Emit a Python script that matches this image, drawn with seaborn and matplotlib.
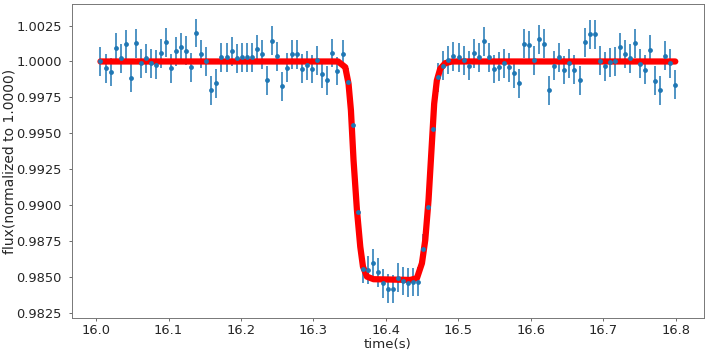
import numpy as np
import pandas as pd
import matplotlib
matplotlib.use("Agg")
import matplotlib.pyplot as plt
from matplotlib.ticker import MultipleLocator, FormatStrFormatter
import seaborn as sns

# observation times (s)
time_s = [
    16.0060, 16.0130, 16.0199, 16.0269, 16.0338, 16.0408, 16.0478, 16.0547, 16.0617, 16.0686,
    16.0756, 16.0826, 16.0895, 16.0965, 16.1034, 16.1104, 16.1174, 16.1243, 16.1313, 16.1382,
    16.1452, 16.1522, 16.1591, 16.1661, 16.1730, 16.1800, 16.1870, 16.1939, 16.2009, 16.2078,
    16.2148, 16.2218, 16.2287, 16.2357, 16.2426, 16.2496, 16.2566, 16.2635, 16.2705, 16.2774,
    16.2844, 16.2914, 16.2983, 16.3053, 16.3122, 16.3192, 16.3262, 16.3331, 16.3401, 16.3470,
    16.3540, 16.3610, 16.3679, 16.3749, 16.3818, 16.3888, 16.3958, 16.4027, 16.4097, 16.4166,
    16.4236, 16.4306, 16.4375, 16.4445, 16.4514, 16.4584, 16.4654, 16.4723, 16.4793, 16.4862,
    16.4932, 16.5002, 16.5071, 16.5141, 16.5210, 16.5280, 16.5350, 16.5419, 16.5489, 16.5558,
    16.5628, 16.5698, 16.5767, 16.5837, 16.5906, 16.5976, 16.6046, 16.6115, 16.6185, 16.6254,
    16.6324, 16.6394, 16.6463, 16.6533, 16.6602, 16.6672, 16.6742, 16.6811, 16.6881, 16.6950,
    16.7020, 16.7090, 16.7159, 16.7229, 16.7298, 16.7368, 16.7438, 16.7507, 16.7577, 16.7646,
    16.7716, 16.7786, 16.7855, 16.7925, 16.7994,
]

# normalized flux measurements
flux = [
    1.00000, 0.99953, 0.99926, 1.00097, 1.00023, 1.00120, 0.99887, 1.00127, 0.99986, 1.00023,
    0.99986, 0.99977, 1.00058, 1.00134, 0.99953, 1.00072, 1.00099, 1.00076, 0.99960, 1.00199,
    1.00053, 1.00000, 0.99799, 0.99847, 1.00030, 1.00030, 1.00072, 1.00023, 1.00030, 1.00030,
    1.00030, 1.00085, 1.00051, 0.99868, 1.00144, 1.00037, 0.99826, 0.99958, 1.00051, 1.00051,
    0.99951, 0.99974, 0.99947, 1.00007, 0.99912, 0.99870, 1.00060, 0.99933, 1.00051, 0.99858,
    0.99556, 0.98953, 0.98556, 0.98549, 0.98594, 0.98531, 0.98456, 0.98417, 0.98415, 0.98495,
    0.98472, 0.98460, 0.98465, 0.98467, 0.98697, 0.98986, 0.99533, 0.99889, 0.99970, 1.00010,
    1.00037, 1.00028, 1.00007, 0.99970, 1.00058, 1.00030, 1.00141, 1.00030, 0.99947, 0.99963,
    0.99988, 0.99960, 0.99917, 0.99847, 1.00123, 1.00113, 1.00007, 1.00155, 1.00123, 0.99799,
    0.99972, 1.00030, 0.99940, 0.99986, 0.99944, 0.99870, 1.00134, 1.00188, 1.00188, 1.00005,
    0.99967, 0.99993, 1.00000, 1.00099, 1.00053, 1.00021, 1.00127, 0.99984, 0.99944, 1.00081,
    0.99866, 0.99799, 1.00040, 0.99986, 0.99838,
]

# measurement uncertainty
flux_err = [0.001] * len(flux)

# transit model curve
model_t = [16.0060, 16.3340, 16.3439, 16.3484, 16.3517, 16.3553, 16.3600, 16.3646, 16.3683,
           16.3738, 16.3829, 16.4335, 16.4428, 16.4497, 16.4543, 16.4588, 16.4634, 16.4666,
           16.4703, 16.4749, 16.4818, 16.4910, 16.7994]
model_f = [1.00000, 1.00000, 0.99960, 0.99845, 0.99660, 0.99313, 0.98965, 0.98710, 0.98572,
           0.98502, 0.98484, 0.98479, 0.98491, 0.98595, 0.98757, 0.99035, 0.99428, 0.99706,
           0.99868, 0.99949, 0.99988, 1.00000, 1.00000]

sns.set_style("white")
plt.rcParams["font.family"] = ["DejaVu Sans"]

fig = plt.figure(figsize=(7.08, 3.55), dpi=100)
ax = fig.add_axes([0.1013, 0.105, 0.8931, 0.8829])

df = pd.DataFrame({"time": time_s, "flux": flux, "err": flux_err})
sns.lineplot(x=model_t, y=model_f, color="red", linewidth=4.5, sort=False,
             ax=ax, zorder=2)
ax.errorbar(df["time"], df["flux"], yerr=df["err"], fmt="none",
            ecolor="#1f77b4", elinewidth=1.1, zorder=1.9)
sns.scatterplot(data=df, x="time", y="flux", color="#1f77b4", s=12,
                linewidth=0, ax=ax, zorder=3)

ax.margins(x=0.05, y=0.05)
ax.xaxis.set_major_locator(MultipleLocator(0.1))
ax.yaxis.set_major_locator(MultipleLocator(0.0025))
ax.yaxis.set_major_formatter(FormatStrFormatter("%.4f"))
ax.xaxis.set_major_formatter(FormatStrFormatter("%.1f"))
ax.set_xlabel("time(s)", fontsize=9.6, labelpad=1)
ax.set_ylabel("flux(normalized to 1.0000)", fontsize=10)
ax.yaxis.set_label_coords(-0.088, 0.5)
ax.tick_params(axis="both", labelsize=9.4, length=2.5, width=0.6,
               direction="out", color="#555555", bottom=True, left=True)
ax.tick_params(axis="x", pad=2)
ax.tick_params(axis="y", pad=4.5)
for sp in ax.spines.values():
    sp.set_visible(True)
    sp.set_color("#777777")
    sp.set_linewidth(0.7)

fig.savefig("out.png", dpi=100)
